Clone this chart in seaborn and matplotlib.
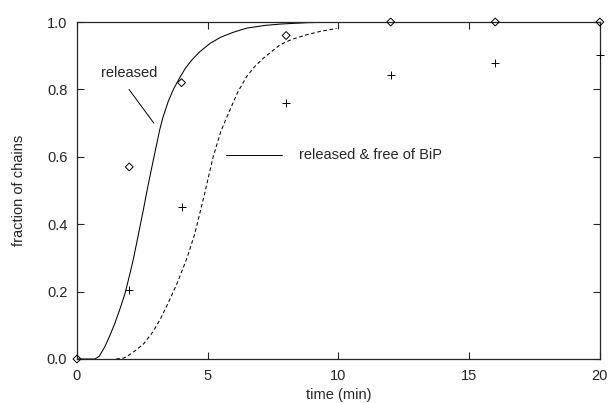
import numpy as np
import pandas as pd
import matplotlib
matplotlib.use("Agg")
import matplotlib.pyplot as plt
import seaborn as sns

# measured points
t_meas = [0, 2, 4, 8, 12, 16, 20]
released_meas = [0.0, 0.57, 0.82, 0.96, 1.0, 1.0, 1.0]
free_meas = [0.0, 0.205, 0.45, 0.76, 0.843, 0.878, 0.902]

# fitted curves
t_released = [0, 0.69, 0.85, 1.07, 1.25, 1.45, 1.65, 1.84, 2.0, 2.15, 2.28, 2.41,
              2.54, 2.66, 2.79, 2.92, 3.05, 3.17, 3.3, 3.49, 3.7, 3.94, 4.15,
              4.39, 4.7, 5.1, 5.5, 6.0, 6.5, 7.2, 7.8, 8.8, 10, 12, 20]
y_released = [0, 0.0, 0.008, 0.037, 0.068, 0.106, 0.15, 0.195, 0.245, 0.294, 0.343, 0.393,
              0.443, 0.492, 0.542, 0.59, 0.638, 0.682, 0.72, 0.764, 0.802, 0.836, 0.863,
              0.887, 0.912, 0.937, 0.955, 0.97, 0.982, 0.99, 0.994, 0.998, 1.0, 1.0, 1.0]

t_free = [1.5, 1.8, 2.0, 2.25, 2.55, 2.9, 3.2, 3.5, 3.85, 4.2, 4.5, 4.85, 5.03,
          5.21, 5.5, 5.85, 6.15, 6.49, 6.8, 7.12, 7.76, 8.2, 8.78, 9.3, 9.93]
y_free = [0.0, 0.003, 0.012, 0.026, 0.045, 0.08, 0.12, 0.168, 0.228, 0.298, 0.37, 0.48, 0.54,
          0.60, 0.675, 0.739, 0.792, 0.838, 0.868, 0.892, 0.932, 0.948, 0.962, 0.972, 0.981]

sns.set_style("ticks")
plt.rcParams['font.family'] = ['Liberation Sans', 'DejaVu Sans']
plt.rcParams['font.size'] = 10.5

fig = plt.figure(figsize=(6.08, 4.03), dpi=100)
ax = fig.add_axes([0.1266, 0.1092, 0.86, 0.8362])

sns.lineplot(x=t_released, y=y_released, ax=ax, color='black', linewidth=0.75)
sns.lineplot(x=t_free, y=y_free, ax=ax, color='black', linewidth=0.75,
             linestyle=(0, (3.5, 2.5)))

sns.scatterplot(x=t_meas, y=released_meas, ax=ax, marker='D', s=16,
                facecolors='none', edgecolor='black', linewidth=0.7,
                clip_on=False, zorder=5)
sns.scatterplot(x=t_meas[1:], y=free_meas[1:], ax=ax, marker='+', s=30,
                color='black', linewidth=0.7, clip_on=False, zorder=5)

# labels with leader lines
ax.text(1.99, 0.849, "released", ha='center', va='center')
ax.plot([1.99, 2.94], [0.80, 0.70], color='black', linewidth=0.7)
ax.text(8.49, 0.605, "released & free of BiP", ha='left', va='center')
ax.plot([5.70, 7.83], [0.605, 0.605], color='black', linewidth=0.7)

ax.set_xlim(0, 20)
ax.set_ylim(0, 1.0)
ax.set_xticks([0, 5, 10, 15, 20])
ax.set_yticks([0, 0.2, 0.4, 0.6, 0.8, 1.0])
ax.set_yticklabels(["0.0", "0.2", "0.4", "0.6", "0.8", "1.0"])
ax.tick_params(direction='in', length=5, width=0.8, top=True, right=True,
               pad=7, labelsize=10.5)
for s in ax.spines.values():
    s.set_visible(True)
    s.set_linewidth(0.9)

ax.set_xlabel("time (min)", labelpad=4)
ax.set_ylabel("fraction of chains", labelpad=15)

fig.savefig("out.png", dpi=100)
